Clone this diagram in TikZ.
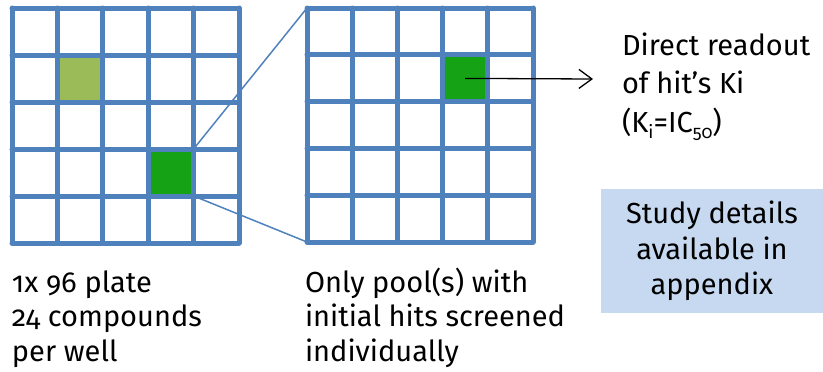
\documentclass[tikz,border=0pt]{standalone}
\usepackage{fontspec}
\setmainfont{Fira Sans}[Numbers=OldStyle]
\usetikzlibrary{arrows.meta}
\definecolor{gridblue}{HTML}{4F81BD}
\definecolor{litegreen}{HTML}{9BBB59}
\definecolor{hitgreen}{HTML}{15A315}
\definecolor{boxblue}{HTML}{C6D9F1}
\newcommand{\subtx}[1]{\raisebox{-0.22em}{\fontsize{18}{18}\selectfont #1}}
\begin{document}
\begin{tikzpicture}[x=1pt,y=-1pt,
  cellL/.style={rectangle, inner sep=0pt, outer sep=0pt, minimum width=45.4pt, minimum height=47pt},
  cellR/.style={rectangle, inner sep=0pt, outer sep=0pt, minimum width=45.2pt, minimum height=46.8pt},
  plate/.style={rectangle, inner sep=0pt, outer sep=0pt},
  gridline/.style={draw=gridblue, line width=5pt, line cap=round, line join=round},
  zoomline/.style={draw=gridblue, line width=1.5pt},
  readarrow/.style={draw=black, line width=1.3pt, -{Straight Barb[length=13pt,width=19pt,line width=1.3pt]}},
  lbl/.style={font=\fontsize{29}{34.5}\selectfont, align=left, anchor=base west, inner sep=0pt, outer sep=0pt},
  notebox/.style={fill=boxblue, inner sep=0pt, minimum width=222pt, minimum height=124pt, align=center, font=\fontsize{29}{35.5}\selectfont}
]
\useasboundingbox (0,0) rectangle (823,372);
% plates (frames as named nodes)
\node[plate, minimum width=227pt, minimum height=235pt] (plateL) at (125.5,125.5) {};
\node[plate, minimum width=226pt, minimum height=234pt] (plateR) at (420,125) {};
% coloured wells
\node[cellL, fill=litegreen] (lite) at (80.1,78.5) {};
\node[cellL, fill=hitgreen] (hitL) at (170.9,172.5) {};
\node[cellR, fill=hitgreen] (hitR) at (465.2,78.4) {};
% grid lines
\foreach \i in {0,...,5} {
  \draw[gridline] ({12+45.4*\i},8) -- ({12+45.4*\i},243);
  \draw[gridline] (12,{8+47*\i}) -- (239,{8+47*\i});
  \draw[gridline] ({307+45.2*\i},8) -- ({307+45.2*\i},242);
  \draw[gridline] (307,{8+46.8*\i}) -- (533,{8+46.8*\i});
}
% zoom connectors
\draw[zoomline] (hitL.north east) -- (plateR.north west);
\draw[zoomline] (hitL.south east) -- (plateR.south west);
% readout arrow
\coordinate (tip) at (593,79);
\draw[readarrow] (hitR.center) -- (tip);
% texts (anchor = baseline of last line)
\node[lbl, font=\fontsize{29}{38.3}\selectfont] (readout) at (622,132) {Direct readout\\of hit’s Ki\\(K\subtx{i}=IC\subtx{50})};
\node[lbl] (plateLtxt) at (12,361) {1x 96 plate\\24 compounds\\per well};
\node[lbl] (plateRtxt) at (305,361) {Only pool(s) with\\initial hits screened\\individually};
\node[notebox] (note) at (712,251) {Study details\\available in\\appendix};
\end{tikzpicture}
\end{document}
